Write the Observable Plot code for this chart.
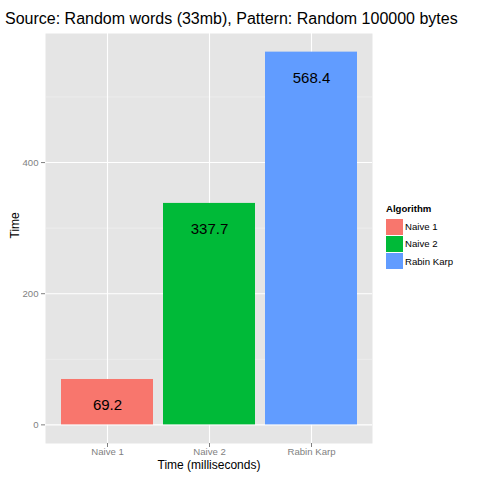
<!DOCTYPE html>
<html>
<head>
<meta charset="utf-8">
<script src="https://cdn.jsdelivr.net/npm/d3@7"></script>
<script src="https://cdn.jsdelivr.net/npm/@observablehq/plot@0.6"></script>
<style>
  body { margin: 0; background: #fff; font-family: "Liberation Sans", Arial, sans-serif; }
  #chart { position: relative; width: 480px; height: 480px; }
  #title { position: absolute; left: 5px; top: 10px; font-size: 16px; color: #000; white-space: nowrap; }
  #legend { position: absolute; left: 386px; top: 203px; font-size: 9.6px; color: #000; }
  #legend .head { font-weight: bold; margin-bottom: 4px; }
  #legend .row { display: flex; align-items: center; height: 17.3px; }
  #legend .key { width: 17px; height: 16px; margin-right: 2px; }
</style>
</head>
<body>
<div id="chart">
  <div id="plot"></div>
  <div id="title">Source: Random words (33mb), Pattern: Random 100000 bytes</div>
  <div id="legend"></div>
</div>
<script>
// data
const algorithms = ["Naive 1", "Naive 2", "Rabin Karp"];
const times = [69.2, 337.7, 568.4];
const colors = ["#F8766D", "#00BA38", "#619CFF"];
const majorTicks = [0, 200, 400];
const minorTicks = [100, 300, 500];

const rows = algorithms.map((a, i) => ({ algo: a, time: times[i] }));

const grey = "#7F7F7F";

const plot = Plot.plot({
  width: 480,
  height: 480,
  marginLeft: 45,
  marginRight: 108,
  marginTop: 33,
  marginBottom: 37,
  style: { fontFamily: "Liberation Sans, Arial, sans-serif", background: "transparent" },
  x: {
    domain: algorithms,
    paddingInner: 0.1,
    paddingOuter: 0.15,
    label: null,
  },
  y: {
    domain: [-28.42, 596.82],
    label: null,
  },
  color: { domain: algorithms, range: colors },
  marks: [
    Plot.frame({ fill: "#E5E5E5", stroke: null }),
    Plot.ruleY(minorTicks, { stroke: "#F2F2F2", strokeWidth: 0.6 }),
    Plot.ruleY(majorTicks, { stroke: "#fff", strokeWidth: 1.1 }),
    Plot.ruleX(algorithms, { x: (d) => d, stroke: "#fff", strokeWidth: 1.1 }),
    Plot.barY(rows, { x: "algo", y: "time", fill: "algo" }),
    Plot.text(rows, {
      x: "algo",
      y: "time",
      text: (d) => d.time.toFixed(1),
      dy: 26,
      fontSize: 15,
      fill: "#000",
    }),
    Plot.axisY(majorTicks, {
      tickSize: 4,
      tickPadding: 3,
      stroke: grey,
      color: grey,
      fontSize: 9.6,
      label: null,
    }),
    Plot.axisX({
      tickSize: 4,
      tickPadding: 1,
      stroke: grey,
      color: grey,
      fontSize: 9.6,
      label: null,
    }),
    Plot.text(["Time (milliseconds)"], {
      frameAnchor: "bottom",
      lineAnchor: "middle",
      dy: 22,
      fontSize: 12,
      fill: "#000",
    }),
    Plot.text(["Time"], {
      frameAnchor: "left",
      dx: -30,
      rotate: -90,
      fontSize: 12,
      fill: "#000",
    }),
  ],
});

document.getElementById("plot").appendChild(plot);

// legend
const legend = document.getElementById("legend");
legend.innerHTML =
  `<div class="head">Algorithm</div>` +
  algorithms
    .map(
      (a, i) =>
        `<div class="row"><div class="key" style="background:${colors[i]}"></div>${a}</div>`,
    )
    .join("");
</script>
</body>
</html>
